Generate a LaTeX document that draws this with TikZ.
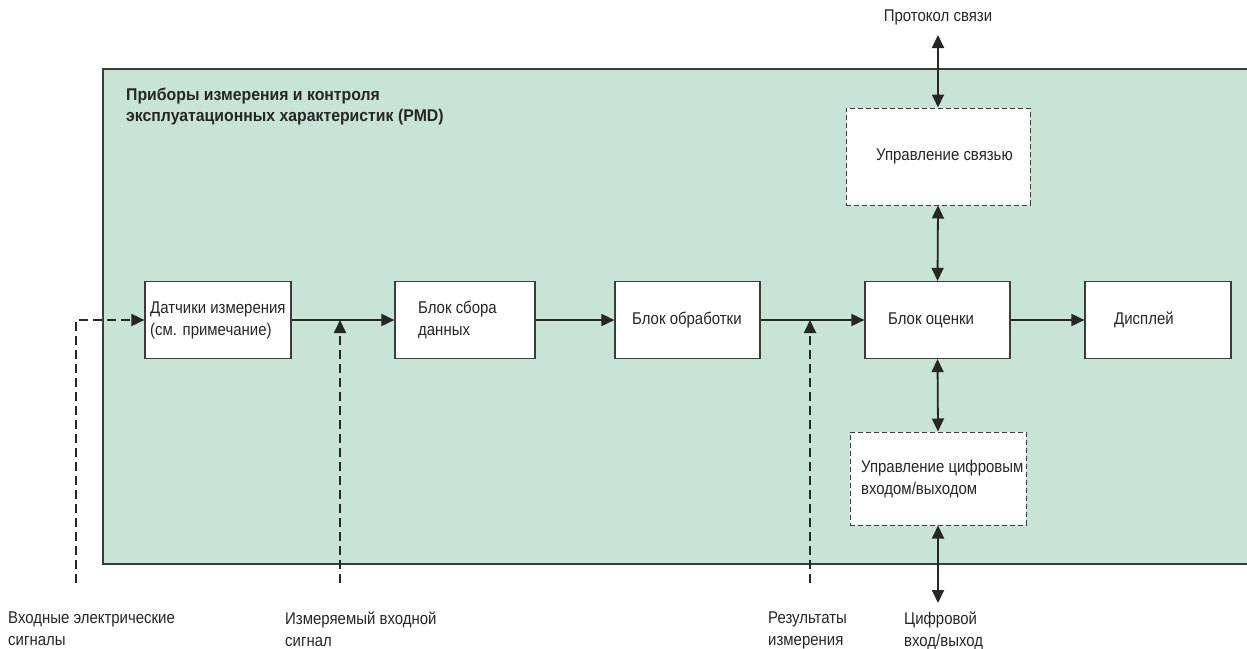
\documentclass[tikz,border=0pt]{standalone}
\usepackage{fontspec}
\setmainfont{Liberation Sans}[FakeStretch=0.88,BoldFeatures={FakeStretch=0.93}]
\usetikzlibrary{arrows.meta}
\definecolor{pmdgreen}{RGB}{200,228,214}
\definecolor{edge}{RGB}{60,60,60}
\begin{document}
\begin{tikzpicture}[x=1pt,y=-1pt,
  box/.style={draw=edge,line width=1.2pt,fill=white,minimum width=146pt,minimum height=77pt,inner sep=0pt},
  dbox/.style={draw=edge,line width=1pt,fill=white,dash pattern=on 5pt off 3pt,inner sep=0pt},
  txt/.style={anchor=west,font=\fontsize{17}{22}\selectfont,align=left,inner sep=0pt,text=black!85},
  lbl/.style={anchor=north west,font=\fontsize{17}{22}\selectfont,align=left,inner sep=0pt,text=black!85},
  flow/.style={line width=1.8pt,draw=black!85,-{Triangle[length=13pt,width=12pt]}},
  biflow/.style={line width=1.8pt,draw=black!85,{Triangle[length=13pt,width=12pt]}-{Triangle[length=13pt,width=12pt]}},
  sig/.style={line width=1.8pt,draw=black!85,dash pattern=on 9pt off 5pt,-{Triangle[length=13pt,width=12pt]}}
]
\useasboundingbox (0,0) rectangle (1247,648);
% enclosure
\fill[pmdgreen] (103,69) rectangle (1247,564);
\draw[edge,line width=1.2pt] (1247,69) -- (103,69) -- (103,564) -- (1247,564);
\node[anchor=north west,inner sep=0pt,font=\bfseries\fontsize{17}{20.5}\selectfont,align=left,text=black!85] (title) at (126,88)
  {Приборы измерения и контроля\\эксплуатационных характеристик (PMD)};

% boxes
\node[box] (sens) at (218,320) {};
\node[txt] (senst) at (150,320) {Датчики измерения\\(см. примечание)};
\node[box,minimum width=140pt] (acq) at (465,320) {};
\node[txt] (acqt) at (418,320) {Блок сбора\\данных};
\node[box,minimum width=145pt] (proc) at (687.5,320) {};
\node[txt] (proct) at (632,320) {Блок обработки};
\node[box,minimum width=145pt] (eval) at (937.5,320) {};
\node[txt] (evalt) at (888,320) {Блок оценки};
\node[box] (disp) at (1158,320) {};
\node[txt] (dispt) at (1114,320) {Дисплей};
\node[dbox,minimum width=184pt,minimum height=97pt] (comm) at (938,156.5) {};
\node[txt] (commt) at (876,156.5) {Управление связью};
\node[dbox,minimum width=176pt,minimum height=93pt] (dio) at (938,478.5) {};
\node[txt] (diot) at (861,479) {Управление цифровым\\входом/выходом};

% main flow
\draw[flow] (sens.east) -- (acq.west);
\draw[flow] (acq.east) -- (proc.west);
\draw[flow] (proc.east) -- (eval.west);
\draw[flow] (eval.east) -- (disp.west);

% vertical links
\node[anchor=south,inner sep=0pt,font=\fontsize{17}{21}\selectfont,text=black!85] (proto) at (938,25) {Протокол связи};
\coordinate (protoend) at (938,35);
\coordinate (dioend) at (938,603);
\draw[biflow] (protoend) -- (comm.north);
\draw[biflow] (comm.south) -- (eval.north);
\draw[biflow] (eval.south) -- (dio.north);
\draw[biflow] (dio.south) -- (dioend);

% signals
\coordinate (in0) at (76,583);
\coordinate (m0) at (340,583);
\coordinate (m1) at (340,320);
\coordinate (r0) at (810,583);
\coordinate (r1) at (810,320);
\draw[sig] (in0) |- (sens.west);
\draw[sig] (m0) -- (m1);
\draw[sig] (r0) -- (r1);

% bottom labels
\node[lbl] (l1) at (8,612) {Входные электрические\\сигналы};
\node[lbl] (l2) at (285,612) {Измеряемый входной\\сигнал};
\node[lbl] (l3) at (768,612) {Результаты\\измерения};
\node[lbl] (l4) at (904,612) {Цифровой\\вход/выход};
\end{tikzpicture}
\end{document}
